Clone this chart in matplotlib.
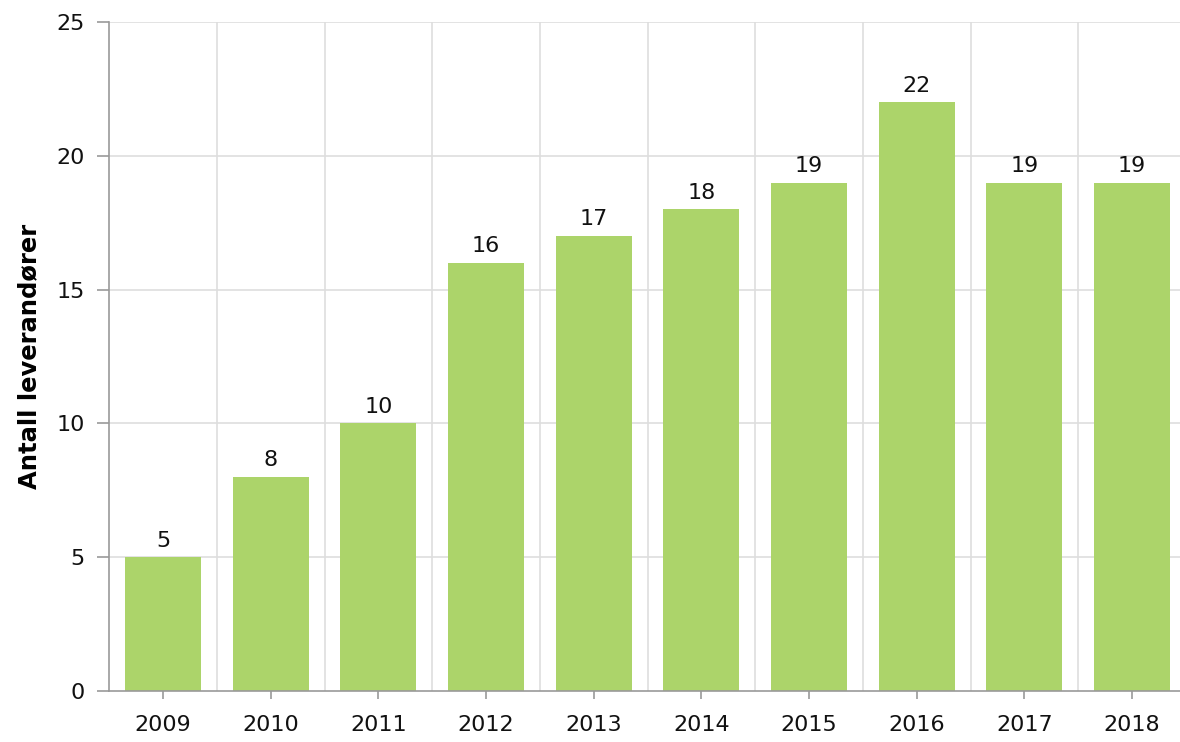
import numpy as np
import matplotlib.pyplot as plt

# Data
years = ['2009', '2010', '2011', '2012', '2013', '2014', '2015', '2016', '2017', '2018']
counts = [5, 8, 10, 16, 17, 18, 19, 22, 19, 19]
y_ticks = [0, 5, 10, 15, 20, 25]

bar_color = '#acd46a'
grid_color = '#dedede'
axis_color = '#999999'

fig = plt.figure(figsize=(11.8, 7.42), dpi=100)
ax = fig.add_axes([0.0925, 0.0687, 0.9125, 0.9016])

x = np.arange(len(years))
bars = ax.bar(x, counts, width=0.706, color=bar_color, zorder=3)

# Value labels above bars
for xi, v in zip(x, counts):
    ax.text(xi, v + 0.25, str(v), ha='center', va='bottom', fontsize=16, color='#111111', zorder=4)

ax.set_xlim(-0.5, len(years) - 0.5)
ax.set_ylim(0, 25)
ax.set_yticks(y_ticks)
ax.set_xticks(x)
ax.set_xticklabels(years)

# Grid: horizontal at y ticks, vertical at category boundaries
for yv in y_ticks[1:]:
    ax.axhline(yv, color=grid_color, lw=1.2, zorder=1)
for b in np.arange(0.5, len(years), 1.0):
    ax.axvline(b, color=grid_color, lw=1.2, zorder=1)

for side in ['top', 'right']:
    ax.spines[side].set_visible(False)
for side in ['left', 'bottom']:
    ax.spines[side].set_color(axis_color)
    ax.spines[side].set_linewidth(1.2)
    ax.spines[side].set_zorder(5)

ax.tick_params(axis='both', colors=axis_color, labelcolor='#111111', labelsize=16, width=1.2)
ax.tick_params(axis='x', length=6, pad=11)
ax.tick_params(axis='y', length=8.5, pad=9)

ax.set_ylabel('Antall leverandører', fontsize=17.5, fontweight='bold', labelpad=11)

fig.savefig('out.png', dpi=100)
